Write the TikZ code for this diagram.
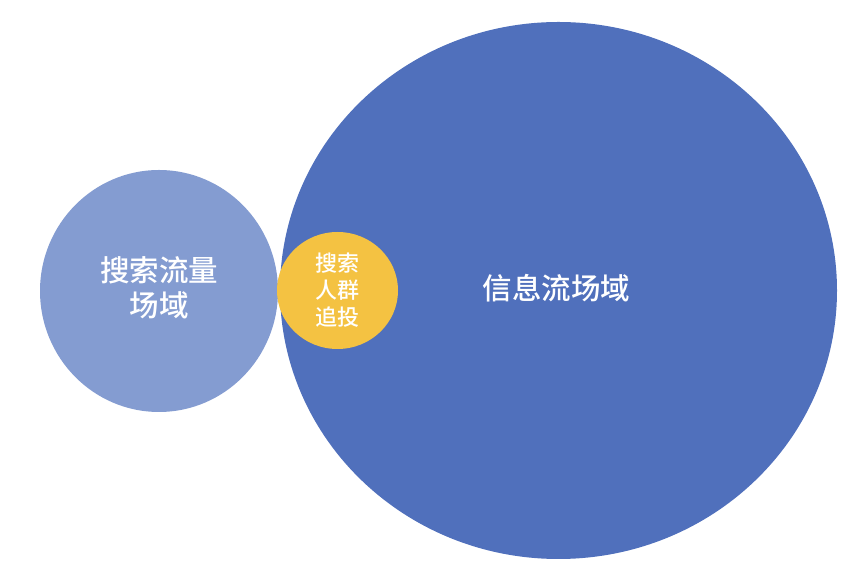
\documentclass[tikz,border=0pt]{standalone}
\usepackage{fontspec}
\setmainfont{Noto Sans CJK SC}[UprightFont=* Medium]
\usetikzlibrary{shapes.geometric}
\definecolor{infoblue}{HTML}{5070BC}
\definecolor{searchblue}{HTML}{849CD1}
\definecolor{retargetyellow}{HTML}{F4C242}

\tikzset{
  field/.style={ellipse, inner sep=0pt, text=white, align=center},
}

\begin{document}
\begin{tikzpicture}[x=1pt,y=1pt]
\useasboundingbox (0,0) rectangle (868,586);

\node[field, fill=infoblue, minimum width=557pt, minimum height=537pt] (info) at (558.5,295.5) {};
\node[font=\fontsize{29.5}{34}\selectfont, text=white] (infotext) at (556.5,298) {信息流场域};

\node[field, fill=searchblue, minimum width=238pt, minimum height=242pt] (search) at (159,295) {};
\node[font=\fontsize{29.5}{35}\selectfont, text=white, align=center] (searchtext) at (159,298.5) {搜索流量\\场域};

\node[field, fill=retargetyellow, minimum width=121pt, minimum height=117pt] (retarget) at (337.5,295.5) {};
\node[font=\fontsize{22}{27}\selectfont, text=white, align=center] (retargettext) at (337.5,296) {搜索\\人群\\追投};
\end{tikzpicture}
\end{document}
